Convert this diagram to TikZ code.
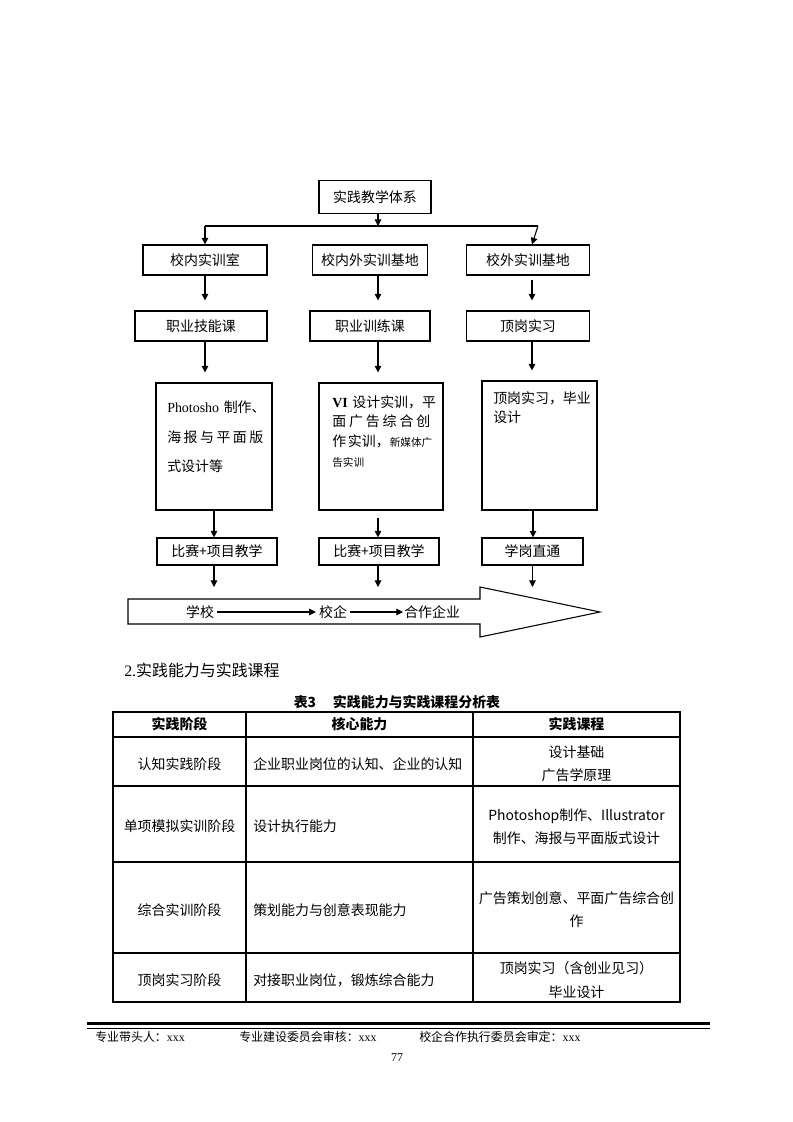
\documentclass[tikz,border=0pt]{standalone}
\usepackage{fontspec}
\setmainfont{Noto Sans CJK SC}
\newfontfamily\latinserif{Liberation Serif}
\usetikzlibrary{arrows.meta,positioning,calc}
\newlength{\upx}
\setlength{\upx}{0.2648mm}
\newcommand{\wuhao}{\fontsize{10.5pt}{14pt}\selectfont}
\newcommand{\xiaowu}{\fontsize{9pt}{11pt}\selectfont}

\begin{document}
\begin{tikzpicture}[x=\upx,y=-\upx,
  sjbox/.style={draw,line width=0.9pt,minimum height=30\upx,inner sep=0pt,font=\wuhao},
  sjtall/.style={draw,line width=0.9pt,inner sep=0pt},
  sjtext/.style={anchor=north west,inner sep=0pt,align=left},
  sjarr/.style={-{Triangle[length=5pt,width=5pt]},line width=0.8pt},
  tbhead/.style={inner sep=0pt,font=\wuhao\bfseries},
  tbcell/.style={inner sep=0pt,align=center,font=\fontsize{10.5pt}{17.5pt}\selectfont},
  tbline/.style={line width=0.8pt}
]
  \path[fill=white] (0,0) rectangle (793,1122);

  % Top of the system
  \node[sjbox,minimum width=112\upx,minimum height=33\upx] (root) at (375,197) {实践教学体系};
  \coordinate (split) at (378,226);
  \coordinate (lft) at (205,226);
  \coordinate (rgt) at (538,226);
  \draw[sjarr] (root.south -| split) -- (split);
  \draw[line width=0.8pt] (lft) -- (rgt);

  % Bases
  \node[sjbox,minimum width=124\upx] (a1) at (205,260) {校内实训室};
  \node[sjbox,minimum width=115\upx] (a2) at (370,260) {校内外实训基地};
  \node[sjbox,minimum width=123\upx] (a3) at (528,260) {校外实训基地};
  \draw[sjarr] (lft) -- (a1.north);
  \draw[sjarr] (rgt) -- ([xshift=4\upx]a3.north);

  % Courses
  \node[sjbox,minimum width=132\upx] (b1) at (201,326) {职业技能课};
  \node[sjbox,minimum width=120\upx] (b2) at (370,326) {职业训练课};
  \node[sjbox,minimum width=123\upx] (b3) at (528,326) {顶岗实习};
  \draw[sjarr,shorten >=10\upx] (a1.south) -- (a1.south |- b1.north);
  \draw[sjarr,shorten >=10\upx] ([xshift=8\upx]a2.south) -- ([xshift=8\upx]a2.south |- b2.north);
  \draw[sjarr,shorten <=4\upx,shorten >=10\upx] ([xshift=4\upx]a3.south) -- ([xshift=4\upx]a3.south |- b3.north);

  % Content boxes
  \node[sjtall,minimum width=116\upx,minimum height=127\upx] (c1) at (214,446.5) {};
  \node[sjtall,minimum width=124\upx,minimum height=127\upx] (c2) at (381,446.5) {};
  \node[sjtall,minimum width=115\upx,minimum height=129\upx] (c3) at (539.5,445.5) {};
  \node[sjtext,text width=104\upx,font=\fontsize{10.5pt}{22pt}\selectfont] (c1t) at (167,401)
    {{\latinserif Photosho} 制作、\\
     \makebox[96\upx][s]{海\hfill 报\hfill 与\hfill 平\hfill 面\hfill 版}\\ 式设计等};
  \node[sjtext,text width=110\upx,font=\fontsize{10.5pt}{15pt}\selectfont] (c2t) at (332,395)
    {{\latinserif\bfseries VI} 设计实训，平\\
     \makebox[98\upx][s]{面\hfill 广\hfill 告\hfill 综\hfill 合\hfill 创}\\
     \makebox[100\upx][s]{作\hfill 实训，{\fontsize{8pt}{15pt}\selectfont 新媒体广}}\\
     {\fontsize{8pt}{15pt}\selectfont 告实训}};
  \node[sjtext,text width=104\upx,font=\fontsize{10.5pt}{15pt}\selectfont] (c3t) at (493,391)
    {顶岗实习，毕业\\设计};
  \draw[sjarr,shorten >=10\upx] ([xshift=4\upx]b1.south) -- ([xshift=4\upx]b1.south |- c1.north);
  \draw[sjarr,shorten >=10\upx] ([xshift=8\upx]b2.south) -- ([xshift=8\upx]b2.south |- c2.north);
  \draw[sjarr,shorten >=10\upx] ([xshift=4\upx]b3.south) -- ([xshift=4\upx]b3.south |- c3.north);

  % Teaching modes
  \node[sjbox,minimum width=120\upx,minimum height=27\upx] (d1) at (217,551.5) {比赛+项目教学};
  \node[sjbox,minimum width=120\upx,minimum height=27\upx] (d2) at (379,551.5) {比赛+项目教学};
  \node[sjbox,minimum width=101\upx,minimum height=27\upx] (d3) at (532.5,551.5) {学岗直通};
  \draw[sjarr] (c1.south) -- (c1.south |- d1.north);
  \draw[sjarr,shorten <=7\upx] ([xshift=-3\upx]c2.south) -- ([xshift=-3\upx]c2.south |- d2.north);
  \draw[sjarr] ([xshift=-6.5\upx]c3.south) -- ([xshift=-6.5\upx]c3.south |- d3.north);

  % Big arrow
  \coordinate (band) at (128,587);
  \draw[line width=0.8pt] (128,599) -- (480,599) -- (480,587) -- (600,612)
    -- (480,637) -- (480,624) -- (128,624) -- cycle;
  \draw[sjarr] ([xshift=-3\upx]d1.south) -- ([xshift=-3\upx]d1.south |- band);
  \draw[sjarr] ([xshift=-1\upx]d2.south) -- ([xshift=-1\upx]d2.south |- band);
  \draw[sjarr] (d3.south) -- (d3.south |- band);
  \node[font=\wuhao,inner sep=3\upx] (school) at (200,612) {学校};
  \node[font=\wuhao,inner sep=3\upx] (xiaoqi) at (333,612) {校企};
  \node[font=\wuhao,anchor=west,inner sep=1\upx] (hezuo) at (403,612) {合作企业};
  \draw[sjarr] (school) -- (xiaoqi);
  \draw[sjarr] (xiaoqi) -- (hezuo);

  % Heading and caption
  \node[anchor=west,inner sep=0pt,font=\fontsize{12pt}{14pt}\selectfont] (sec) at (124,670) {{\latinserif 2.}实践能力与实践课程};
  \node[inner sep=0pt,font=\wuhao\bfseries] (cap) at (397,702) {表3\hspace{1.2em}实践能力与实践课程分析表};

  % Table
  \draw[line width=1.6pt] (113,712) rectangle (680,1002);
  \foreach \yy in {737,786,862,953} \draw[tbline] (113,\yy) -- (680,\yy);
  \foreach \xx in {246,473} \draw[tbline] (\xx,712) -- (\xx,1002);

  \node[tbhead] (h1) at (179.5,724.5) {实践阶段};
  \node[tbhead] (h2) at (359.5,724.5) {核心能力};
  \node[tbhead] (h3) at (576.5,724.5) {实践课程};

  \node[tbcell] (r1a) at (179.5,764) {认知实践阶段};
  \node[tbcell,anchor=west] (r1b) at (253,764) {企业职业岗位的认知、企业的认知};
  \node[tbcell] (r1c) at (576.5,764) {设计基础\\广告学原理};

  \node[tbcell] (r2a) at (179.5,826.5) {单项模拟实训阶段};
  \node[tbcell,anchor=west] (r2b) at (253,826.5) {设计执行能力};
  \node[tbcell] (r2c) at (576.5,826.5) {Photoshop制作、Illustrator\\制作、海报与平面版式设计};

  \node[tbcell] (r3a) at (179.5,910) {综合实训阶段};
  \node[tbcell,anchor=west] (r3b) at (253,910) {策划能力与创意表现能力};
  \node[tbcell] (r3c) at (576.5,910) {广告策划创意、平面广告综合创\\作};

  \node[tbcell] (r4a) at (179.5,980) {顶岗实习阶段};
  \node[tbcell,anchor=west] (r4b) at (253,980) {对接职业岗位，锻炼综合能力};
  \node[tbcell] (r4c) at (576.5,980) {顶岗实习（含创业见习）\\毕业设计};

  % Footer
  \draw[line width=3\upx] (87,1023.5) -- (710,1023.5);
  \draw[line width=1\upx] (87,1028) -- (710,1028);
  \node[anchor=west,inner sep=0pt,font=\xiaowu] (f1) at (95,1037) {专业带头人：{\latinserif xxx}};
  \node[anchor=west,inner sep=0pt,font=\xiaowu] (f2) at (239,1037) {专业建设委员会审核：{\latinserif xxx}};
  \node[anchor=west,inner sep=0pt,font=\xiaowu] (f3) at (419,1037) {校企合作执行委员会审定：{\latinserif xxx}};
  \node[inner sep=0pt,font=\xiaowu\latinserif] (pg) at (397,1058) {77};
\end{tikzpicture}
\end{document}
